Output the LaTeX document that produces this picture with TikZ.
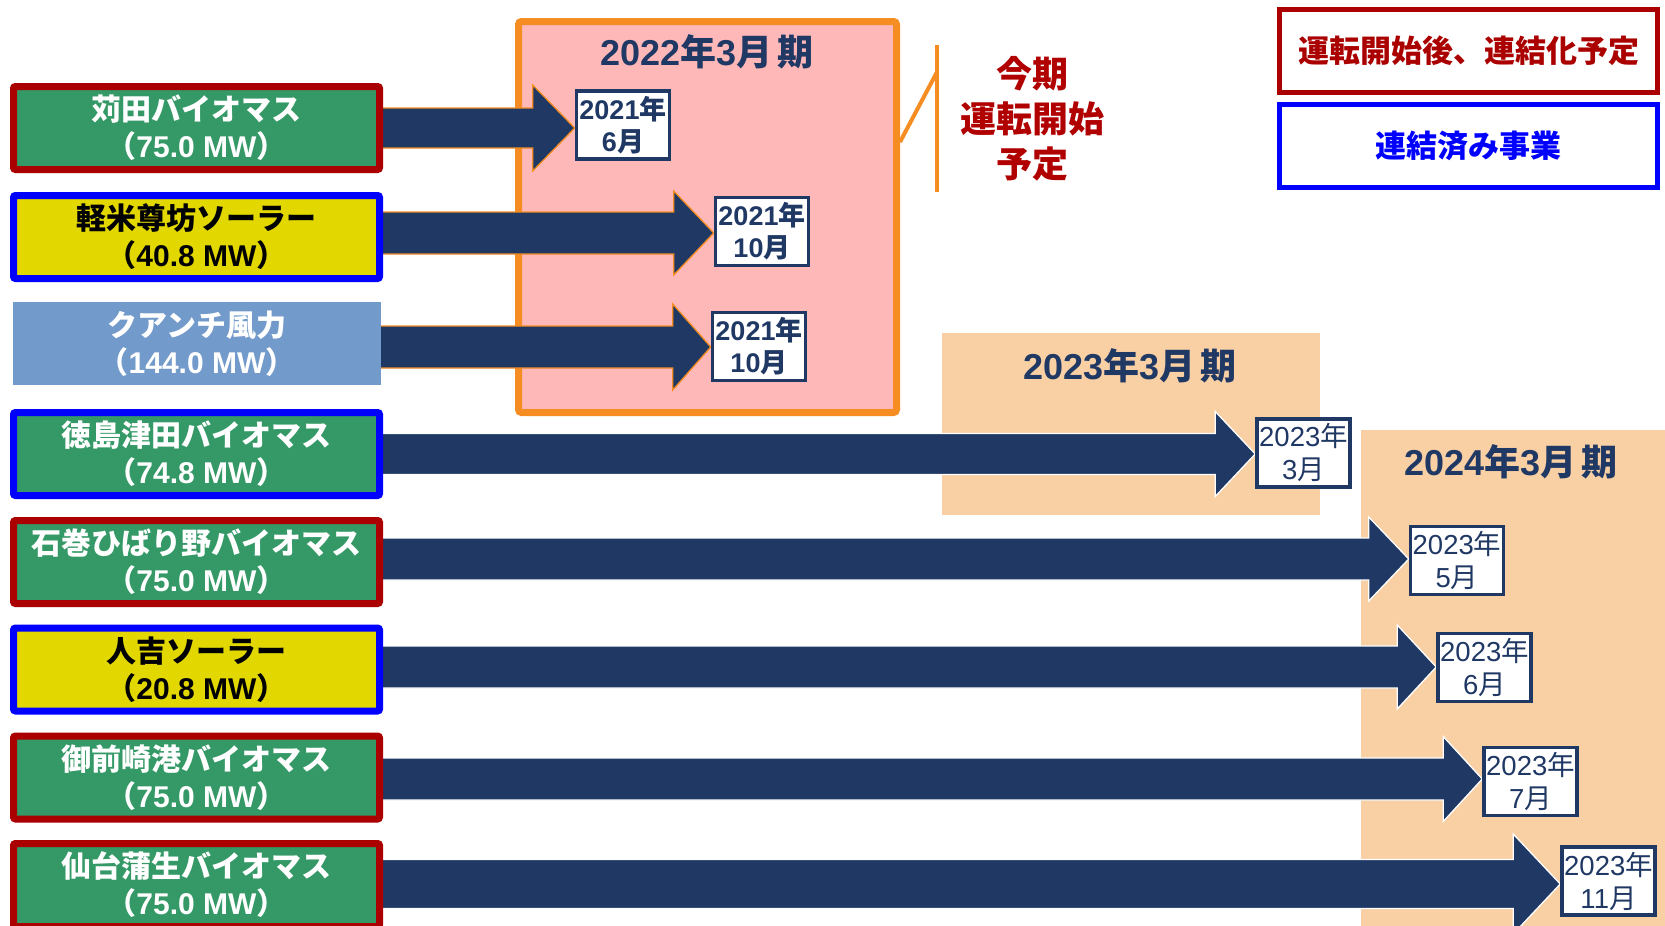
\documentclass[tikz,border=0pt]{standalone}
\usepackage{fontspec}
\setmainfont{Noto Sans CJK JP}
\newfontfamily\lat{Liberation Sans}
\usetikzlibrary{calc}
\pgfdeclarelayer{bg}
\pgfdeclarelayer{arr}
\pgfsetlayers{bg,arr,main}
\definecolor{navy}{HTML}{203864}
\definecolor{bgreen}{HTML}{349966}
\definecolor{dred}{HTML}{AA0000}
\definecolor{pblue}{HTML}{0000FF}
\definecolor{byellow}{HTML}{E2D800}
\definecolor{lblue}{HTML}{729ACA}
\definecolor{pinkfill}{HTML}{FFB8B8}
\definecolor{orng}{HTML}{F68D22}
\definecolor{peach}{HTML}{F9CFA4}
\definecolor{tred}{HTML}{B00000}
\newcommand\mw[1]{（{\lat #1 MW}）}
\newcommand\blockarrow[7]{%
  \coordinate (bs) at (#1.east |- 0,#3);
  \coordinate (bt) at (#2.west |- 0,#3);
  \filldraw[fill=navy, draw=#7, line width=1.3pt, line join=miter]
    ($(bs)+(-10,-#4)$) -- ($(bt)+(-#6,-#4)$) -- ($(bt)+(-#6,-#5)$) -- (bt)
    -- ($(bt)+(-#6,#5)$) -- ($(bt)+(-#6,#4)$) -- ($(bs)+(-10,#4)$) -- cycle;
}
\begin{document}
\begin{tikzpicture}[x=1pt,y=-1pt,
  lbox/.style={minimum width=366, minimum height=83, line width=7, rounded corners=2,
    align=center, inner sep=0, font=\bfseries\fontsize{30}{37}\selectfont},
  dbox/.style={draw=navy, fill=white, text=navy, line width=3.5, minimum width=93, minimum height=68,
    align=center, inner sep=0},
  dbold/.style={dbox, font=\bfseries\fontsize{27}{32}\selectfont},
  dreg/.style={dbox, font=\fontsize{27.5}{33}\selectfont},
  ptitle/.style={text=navy, inner sep=0, font=\bfseries\fontsize{36}{40}\selectfont},
  legend/.style={line width=5, minimum width=378, minimum height=83, inner sep=0,
    font=\bfseries\fontsize{31}{36}\selectfont}
]
\useasboundingbox (0,0) rectangle (1665,926);
\begin{pgfonlayer}{bg}
  \fill[peach] (942,333) rectangle (1320,515);
  \fill[peach] (1361,430) rectangle (1670,930);
  \node[draw=orng, fill=pinkfill, line width=7, rounded corners=3, minimum width=378,
    minimum height=391, inner sep=0] (r22) at (707.5,217) {};
\end{pgfonlayer}

% period titles
\node[ptitle] (t22) at (707,52) {{\lat 2022}年{\lat 3}月\hspace{5pt}期};
\node[ptitle] (t23) at (1130,366) {{\lat 2023}年{\lat 3}月\hspace{5pt}期};
\node[ptitle] (t24) at (1511,462) {{\lat 2024}年{\lat 3}月\hspace{5pt}期};

% bracket and annotation
\coordinate (brtop) at (937,45);
\coordinate (brbot) at (937,192);
\coordinate (brjoin) at (937,72);
\draw[orng, line width=4] (brtop) -- (brbot);
\draw[orng, line width=4] (r22.east |- 0,142) -- (brjoin);
\node[text=tred, align=center, inner sep=0, font=\bfseries\fontsize{36}{45}\selectfont]
  (note) at (1032,119) {今期\\運転開始\\予定};

% legend
\node[legend, draw=dred, text=dred] (lg1) at (1468.5,51) {運転開始後、連結化予定};
\node[legend, draw=pblue, text=pblue] (lg2) at (1468.5,146) {連結済み事業};

% project boxes
\node[lbox, draw=dred, fill=bgreen, text=white] (lb1) at (196.5,128) {苅田バイオマス\\\mw{75.0}};
\node[lbox, draw=pblue, fill=byellow, text=black] (lb2) at (196.5,237) {軽米尊坊ソーラー\\\mw{40.8}};
\node[lbox, draw=none, fill=lblue, text=white, minimum width=368, minimum height=83, rounded corners=0] (lb3) at (197,343.5) {クアンチ風力\\\mw{144.0}};
\node[lbox, draw=pblue, fill=bgreen, text=white] (lb4) at (196.5,454) {徳島津田バイオマス\\\mw{74.8}};
\node[lbox, draw=dred, fill=bgreen, text=white] (lb5) at (196.5,562) {石巻ひばり野バイオマス\\\mw{75.0}};
\node[lbox, draw=pblue, fill=byellow, text=black] (lb6) at (196.5,669.5) {人吉ソーラー\\\mw{20.8}};
\node[lbox, draw=dred, fill=bgreen, text=white] (lb7) at (196.5,777.5) {御前崎港バイオマス\\\mw{75.0}};
\node[lbox, draw=dred, fill=bgreen, text=white] (lb8) at (196.5,885) {仙台蒲生バイオマス\\\mw{75.0}};

% date boxes
\node[dbold] (d1) at (623,125) {{\lat 2021}年\\{\lat 6}月};
\node[dbold] (d2) at (762,231.5) {{\lat 2021}年\\{\lat 10}月};
\node[dbold] (d3) at (759,346.5) {{\lat 2021}年\\{\lat 10}月};
\node[dreg] (d4) at (1303.5,453) {{\lat 2023}年\\{\lat 3}月};
\node[dreg] (d5) at (1457,560.5) {{\lat 2023}年\\{\lat 5}月};
\node[dreg] (d6) at (1484.5,667.5) {{\lat 2023}年\\{\lat 6}月};
\node[dreg] (d7) at (1530.5,781.5) {{\lat 2023}年\\{\lat 7}月};
\node[dreg] (d8) at (1608.5,881) {{\lat 2023}年\\{\lat 11}月};

% arrows
\begin{pgfonlayer}{arr}
  \blockarrow{lb1}{d1}{128}{20}{43}{42}{orng}
  \blockarrow{lb2}{d2}{233}{21}{42}{40}{orng}
  \blockarrow{lb3}{d3}{347}{21}{43}{38}{orng}
  \blockarrow{lb4}{d4}{454}{20.5}{42.5}{40}{white}
  \blockarrow{lb5}{d5}{559}{21}{42}{40}{white}
  \blockarrow{lb6}{d6}{667}{21}{42}{39}{white}
  \blockarrow{lb7}{d7}{779}{21}{42.5}{39}{white}
  \blockarrow{lb8}{d8}{884}{24.5}{50}{47}{white}
\end{pgfonlayer}
\end{tikzpicture}
\end{document}
